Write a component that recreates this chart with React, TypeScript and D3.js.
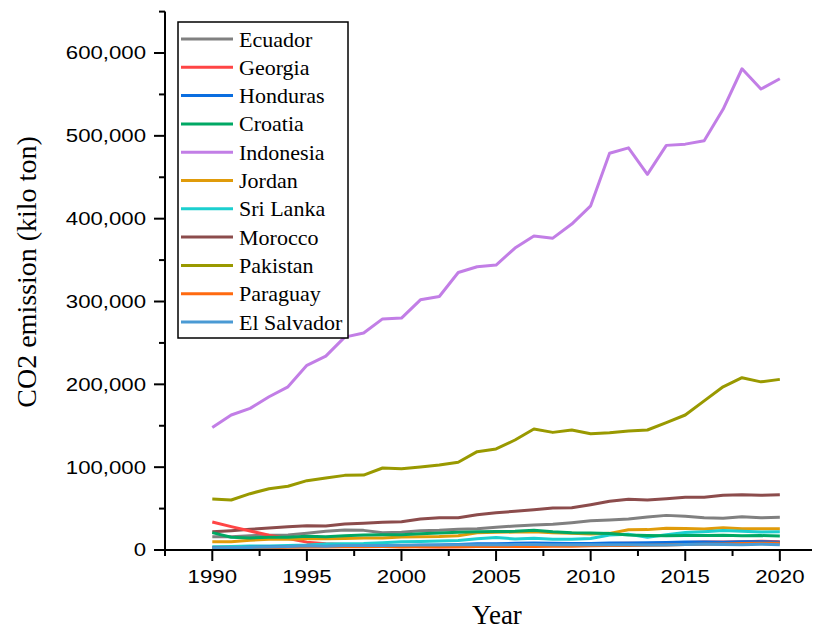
import React from "react";
import * as d3 from "d3";

const years: number[] = d3.range(1990, 2021);

const countries: string[] = [
  "Ecuador", "Georgia", "Honduras", "Croatia", "Indonesia", "Jordan",
  "Sri Lanka", "Morocco", "Pakistan", "Paraguay", "El Salvador",
];

const colors: string[] = [
  "#808080", "#ff4545", "#0a6ee0", "#00a864", "#c27ee6", "#e09b0a",
  "#1ccfcf", "#8c4c4c", "#999900", "#ff6a10", "#4a9ad4",
];

// values in kilo ton, 1990..2020
const ecuador = [16000, 16000, 17300, 17900, 18100, 20100, 22500, 24100, 23700, 20900, 21300, 23300, 23700, 25000, 25700, 27400, 29000, 30200, 31000, 33000, 35400, 36200, 37400, 39800, 41800, 40600, 39000, 38200, 40200, 39000, 39400];
const georgia = [33800, 28200, 22900, 17800, 14000, 9500, 7500, 6500, 6000, 5500, 5000, 4000, 3600, 3900, 4200, 4600, 5200, 5600, 5400, 6000, 6200, 7800, 8000, 7900, 8300, 9200, 9600, 9800, 10000, 10500, 10000];
const honduras = [2600, 2700, 3200, 3500, 3900, 4000, 4300, 4600, 4800, 5000, 5100, 5800, 6000, 6700, 7400, 7600, 8000, 8600, 8300, 7900, 7800, 8400, 8600, 8700, 9000, 9600, 9800, 9500, 10000, 10000, 9400];
const croatia = [21000, 15300, 14500, 15300, 15300, 16500, 16100, 17300, 18100, 18500, 18500, 19500, 20500, 21500, 22000, 22300, 22500, 23700, 22000, 20900, 20500, 19800, 18000, 17500, 17300, 17500, 17500, 17800, 17300, 17400, 16900];
const indonesia = [148000, 163000, 171000, 185000, 197000, 223000, 234000, 257000, 262000, 279000, 280000, 302000, 306000, 335000, 342000, 344000, 364500, 379000, 376500, 393500, 415500, 479000, 485500, 453500, 488500, 490000, 494000, 532000, 581000, 556500, 569000];
const jordan = [10000, 10000, 11700, 12900, 12900, 13700, 13700, 13900, 14500, 14600, 15700, 16100, 16300, 17300, 20900, 21300, 21700, 22000, 20900, 20100, 19300, 20100, 24500, 24600, 26200, 26000, 25400, 27000, 25600, 25800, 25800];
const sriLanka = [3900, 4200, 4800, 4900, 5500, 6000, 7300, 7600, 7800, 8800, 10000, 10200, 10900, 11600, 13500, 15000, 13300, 14300, 13000, 13000, 14000, 18000, 19000, 15300, 18500, 21000, 22000, 23500, 22500, 21800, 22000];
const morocco = [22100, 23300, 25000, 26600, 28200, 29400, 29000, 31400, 32200, 33400, 34200, 37400, 39000, 39000, 42600, 45000, 46700, 48700, 50700, 51100, 54700, 58800, 61200, 60400, 62000, 63600, 63600, 66000, 66800, 66000, 66800];
const pakistan = [61600, 60400, 68000, 74000, 76900, 83700, 86900, 90100, 90500, 99000, 98200, 100200, 102600, 106000, 118700, 122000, 132800, 146000, 142000, 144900, 140400, 141600, 143700, 144900, 153700, 163000, 180000, 197000, 208000, 203000, 206000];
const paraguay = [2000, 2300, 2600, 2800, 3200, 3600, 3700, 3900, 4000, 4100, 3700, 3800, 3900, 4000, 4100, 4100, 4200, 4300, 4500, 4600, 5100, 5300, 5400, 5600, 5900, 6500, 6900, 7200, 7700, 8300, 8200];
const elSalvador = [2500, 2900, 3100, 3600, 4300, 5000, 4600, 5300, 5400, 5400, 5600, 5900, 6000, 6400, 6300, 6400, 6500, 6700, 6300, 6200, 6200, 6400, 6300, 6000, 6100, 6600, 6800, 6500, 6300, 6900, 6400];

const seriesValues: number[][] = [
  ecuador, georgia, honduras, croatia, indonesia, jordan,
  sriLanka, morocco, pakistan, paraguay, elSalvador,
];

const xTicks: number[] = [1990, 1995, 2000, 2005, 2010, 2015, 2020];
const xMinorTicks: number[] = [1987.5, 1992.5, 1997.5, 2002.5, 2007.5, 2012.5, 2017.5];
const yTicks: number[] = [0, 100000, 200000, 300000, 400000, 500000, 600000];
const yMinorTicks: number[] = [50000, 150000, 250000, 350000, 450000, 550000, 650000];

// drawing order: back to front
const drawOrder: number[] = [4, 8, 7, 0, 1, 5, 6, 3, 2, 9, 10];

export default function App() {
  const W = 822;
  const H = 632;
  const x = d3.scaleLinear().domain([1987.5, 2021.7]).range([165, 812]);
  const y = d3.scaleLinear().domain([0, 650000]).range([550, 11.6]);
  const fmt = d3.format(",");
  const line = d3
    .line<number>()
    .x((_, i) => x(years[i]))
    .y((d) => y(d));

  const serif = "'Liberation Serif', 'Times New Roman', serif";
  const sans = "'Liberation Sans', Arial, sans-serif";

  const legX = 178;
  const legY = 22;
  const legW = 170;
  const legH = 316;
  const rowY0 = 39;
  const rowStep = 28.3;

  return (
    <svg
      width={W}
      height={H}
      style={{ position: "absolute", left: 0, top: 0, background: "#fff" }}
    >
      <rect x={0} y={0} width={W} height={H} fill="#fff" />
      <g fill="none" strokeWidth={3} strokeLinejoin="round" strokeLinecap="butt">
        {drawOrder.map((k) => (
          <path key={countries[k]} d={line(seriesValues[k]) || ""} stroke={colors[k]} />
        ))}
      </g>

      <g stroke="#000" strokeWidth={2}>
        <line x1={165} x2={165} y1={y(650000)} y2={551} />
        <line x1={164} x2={812} y1={550} y2={550} />
        {yTicks.map((t) => (
          <line key={"ym" + t} x1={154} x2={165} y1={y(t)} y2={y(t)} />
        ))}
        {yMinorTicks.map((t) => (
          <line key={"yn" + t} x1={159} x2={165} y1={y(t)} y2={y(t)} />
        ))}
        {xTicks.map((t) => (
          <line key={"xm" + t} x1={x(t)} x2={x(t)} y1={550} y2={561} />
        ))}
        {xMinorTicks.map((t) => (
          <line key={"xn" + t} x1={x(t)} x2={x(t)} y1={550} y2={556} />
        ))}
      </g>

      <g fontFamily={sans} fontSize={18.5} fill="#000">
        {yTicks.map((t) => (
          <text
            key={"yl" + t}
            transform={`translate(146,${y(t)}) scale(1.2,1)`}
            textAnchor="end"
            dominantBaseline="central"
          >
            {fmt(t)}
          </text>
        ))}
        {xTicks.map((t) => (
          <text
            key={"xl" + t}
            transform={`translate(${x(t)},583) scale(1.2,1)`}
            textAnchor="middle"
          >
            {t}
          </text>
        ))}
      </g>

      <text
        x={497}
        y={624}
        textAnchor="middle"
        fontFamily={serif}
        fontSize={27}
        fill="#000"
      >
        Year
      </text>
      <text
        transform="translate(36,272) rotate(-90)"
        textAnchor="middle"
        fontFamily={serif}
        fontSize={28}
        fill="#000"
      >
        CO2 emission (kilo ton)
      </text>

      <rect x={legX} y={legY} width={legW} height={legH} fill="#fff" stroke="#000" strokeWidth={1.5} />
      {countries.map((c, i) => (
        <g key={"lg" + c}>
          <line
            x1={181}
            x2={233}
            y1={rowY0 + i * rowStep}
            y2={rowY0 + i * rowStep}
            stroke={colors[i]}
            strokeWidth={3}
          />
          <text
            x={239}
            y={rowY0 + i * rowStep}
            dominantBaseline="central"
            fontFamily={serif}
            fontSize={22}
            fill="#000"
          >
            {c}
          </text>
        </g>
      ))}
    </svg>
  );
}
